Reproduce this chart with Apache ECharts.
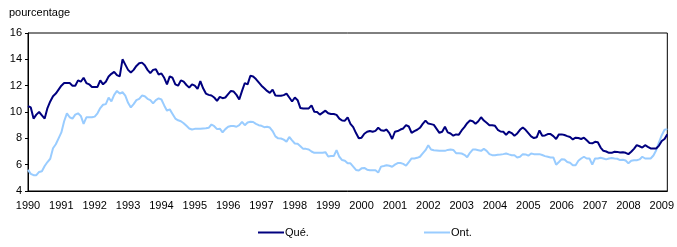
<!DOCTYPE html>
<html>
<head>
<meta charset="utf-8">
<script src="https://cdn.jsdelivr.net/npm/echarts@6/dist/echarts.min.js"></script>
<style>html,body{margin:0;padding:0;background:#fff;}#c{width:677px;height:247px;}</style>
</head>
<body>
<div id="c"></div>
<script>
const yearLabels = ['1990','1991','1992','1993','1994','1995','1996','1997','1998','1999','2000','2001','2002','2003','2004','2005','2006','2007','2008','2009'];
const seriesNames = ['Qué.', 'Ont.'];
const yTicks = [4, 6, 8, 10, 12, 14, 16];

// Monthly values, January 1990 to March 2009 (percentage)
const quebec = [
10.45,10.35,9.5,9.8,10.0,9.75,9.5,10.3,10.8,11.2,11.4,11.7,
12.0,12.2,12.2,12.2,12.0,12.0,12.4,12.3,12.6,12.2,12.1,11.9,
11.9,11.9,12.4,12.1,12.3,12.7,12.9,13.05,12.8,12.7,14.0,13.6,
13.2,13.0,13.2,13.5,13.7,13.75,13.55,13.2,12.95,13.2,13.25,12.85,
12.93,12.6,12.1,12.7,12.6,12.1,12.0,12.4,12.3,12.05,11.85,12.1,
12.0,11.75,12.35,11.8,11.4,11.3,11.25,11.1,10.85,11.15,11.05,11.1,
11.35,11.6,11.55,11.3,10.95,11.6,12.2,12.1,12.75,12.7,12.5,12.25,
12.0,11.8,11.6,11.45,11.7,11.25,11.23,11.23,11.28,11.4,11.1,10.8,
11.1,10.9,10.3,10.27,10.27,10.27,10.5,10.02,10.0,9.8,9.95,10.1,
9.9,9.85,9.85,9.78,9.5,9.35,9.34,9.6,9.1,8.85,8.4,8.0,
8.05,8.35,8.5,8.56,8.5,8.57,8.8,8.62,8.57,8.67,8.4,7.95,
8.5,8.55,8.67,8.75,9.0,8.9,8.42,8.55,8.65,8.8,9.1,9.35,
9.12,9.08,9.02,8.72,8.42,8.5,8.88,8.45,8.37,8.2,8.3,8.28,
8.6,8.85,9.15,9.35,9.3,9.1,9.3,9.6,9.35,9.18,9.0,9.0,
8.95,8.65,8.52,8.5,8.26,8.5,8.4,8.2,8.37,8.65,8.83,8.65,
8.4,8.15,8.02,8.08,8.6,8.2,8.22,8.32,8.32,8.17,7.95,8.3,
8.3,8.25,8.17,8.1,7.92,8.05,8.02,7.95,8.05,7.85,7.65,7.62,
7.74,7.7,7.3,7.05,7.0,6.9,6.9,6.98,6.97,6.92,6.95,6.9,
6.8,6.98,7.2,7.48,7.4,7.3,7.48,7.35,7.23,7.23,7.23,7.45,
7.8,7.95,8.3
];
const ontario = [
5.6,5.3,5.2,5.2,5.45,5.5,5.9,6.2,6.45,7.25,7.55,8.0,
8.45,9.3,9.9,9.6,9.5,9.8,9.9,9.7,9.1,9.6,9.6,9.6,
9.65,9.9,10.3,10.55,10.6,11.1,10.8,11.3,11.6,11.4,11.5,11.25,
10.7,10.35,10.6,10.9,11.0,11.25,11.2,11.0,10.9,10.65,10.9,11.03,
10.95,10.5,10.1,10.2,9.85,9.5,9.37,9.3,9.15,8.95,8.75,8.67,
8.72,8.72,8.72,8.75,8.77,8.8,9.05,8.92,8.7,8.73,8.45,8.7,
8.88,8.93,8.93,8.88,9.0,9.25,9.0,9.2,9.26,9.24,9.1,9.0,
8.95,8.85,8.88,8.82,8.55,8.15,8.0,7.99,7.9,7.75,8.1,7.85,
7.61,7.58,7.4,7.2,7.2,7.15,7.0,6.9,6.9,6.9,6.9,6.95,
6.62,6.65,6.65,7.1,6.6,6.35,6.3,6.1,6.1,5.85,5.6,5.55,
5.72,5.75,5.62,5.58,5.58,5.58,5.4,5.85,5.9,5.96,5.92,5.84,
6.0,6.12,6.12,6.06,5.92,6.2,6.47,6.47,6.52,6.6,6.85,7.1,
7.48,7.15,7.1,7.08,7.05,7.05,7.05,7.12,7.15,7.12,6.87,6.87,
6.85,6.75,6.57,6.9,7.15,7.15,7.1,7.05,7.2,7.05,6.8,6.72,
6.72,6.75,6.77,6.8,6.85,6.78,6.72,6.72,6.55,6.6,6.8,6.78,
6.68,6.85,6.8,6.8,6.8,6.73,6.65,6.6,6.55,6.55,6.0,6.2,
6.42,6.4,6.2,6.14,5.96,5.96,6.3,6.47,6.6,6.47,6.47,6.0,
6.47,6.47,6.52,6.47,6.4,6.47,6.5,6.47,6.45,6.35,6.38,6.32,
6.1,6.3,6.34,6.34,6.4,6.6,6.47,6.47,6.47,6.7,7.1,7.7,
8.24,8.65,8.7
];

// month categories built from the year tick labels
const months = [];
yearLabels.forEach(function (y) {
  for (let m = 1; m <= 12; m++) {
    if (months.length < quebec.length) months.push(y + '-' + (m < 10 ? '0' + m : m));
  }
});

const font = '"Liberation Sans", Arial, sans-serif';
const chart = echarts.init(document.getElementById('c'), null, {renderer: 'canvas'});
chart.setOption({
  animation: false,
  backgroundColor: '#fff',
  grid: {left: 28, right: 9, top: 33, bottom: 56, show: true, borderColor: '#000', borderWidth: 1, backgroundColor: 'transparent'},
  graphic: [{type: 'text', left: 9, top: 7, style: {text: 'pourcentage', font: '11px ' + font, fill: '#000'}}],
  legend: [
    {data: [seriesNames[0]], left: 253, top: 222, icon: 'rect', itemWidth: 26, itemHeight: 2, itemGap: 0,
     textStyle: {fontFamily: font, fontSize: 11, color: '#000', padding: [0, 0, 0, -4]}},
    {data: [seriesNames[1]], left: 419, top: 222, icon: 'rect', itemWidth: 26, itemHeight: 2, itemGap: 0,
     textStyle: {fontFamily: font, fontSize: 11, color: '#000', padding: [0, 0, 0, -4]}}
  ],
  xAxis: {
    type: 'category', data: months, boundaryGap: false,
    axisLine: {lineStyle: {color: '#000', width: 1}},
    axisTick: {show: false},
    axisLabel: {
      interval: function (i) { return i % 12 === 0; },
      formatter: function (v) { return v.slice(0, 4); },
      fontFamily: font, fontSize: 11, color: '#000', margin: 9
    },
    splitLine: {show: false}
  },
  yAxis: {
    type: 'value', min: yTicks[0], max: yTicks[yTicks.length - 1], interval: 2,
    axisLine: {show: true, lineStyle: {color: '#000', width: 1}},
    axisTick: {show: true, length: 3, lineStyle: {color: '#000'}},
    axisLabel: {fontFamily: font, fontSize: 11, color: '#000', margin: 6},
    splitLine: {show: false}
  },
  series: [
    {name: seriesNames[0], type: 'line', data: quebec, showSymbol: false, symbol: 'none',
     lineStyle: {color: '#00007f', width: 2}, itemStyle: {color: '#00007f'}},
    {name: seriesNames[1], type: 'line', data: ontario, showSymbol: false, symbol: 'none',
     lineStyle: {color: '#99ccff', width: 2}, itemStyle: {color: '#99ccff'}, z: 1}
  ]
});
</script>
</body>
</html>
